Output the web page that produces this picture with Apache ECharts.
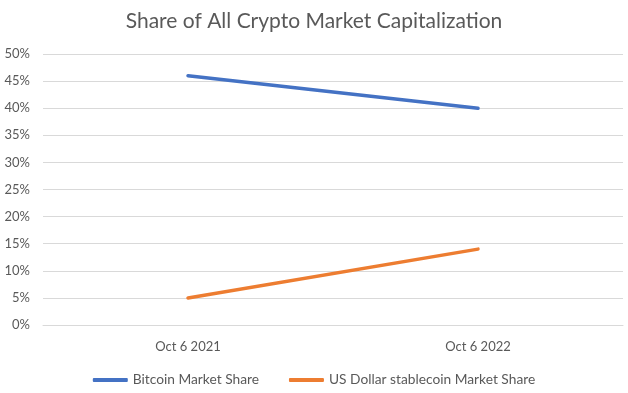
<!DOCTYPE html>
<html>
<head>
<meta charset="utf-8">
<script src="https://cdn.jsdelivr.net/npm/echarts@6/dist/echarts.min.js"></script>
<style>html,body{margin:0;padding:0;background:#fff}#c{width:628px;height:393px}</style>
</head>
<body>
<div id="c"></div>
<script>
const categories = ['Oct 6 2021', 'Oct 6 2022'];
const bitcoinShare = [46, 40];
const stablecoinShare = [5, 14];
const yTicks = [0, 5, 10, 15, 20, 25, 30, 35, 40, 45, 50];

const font = 'Lato, "Open Sans", sans-serif';
const chart = echarts.init(document.getElementById('c'), null, {renderer: 'canvas'});
chart.setOption({
  animation: false,
  backgroundColor: '#fff',
  title: {
    text: 'Share of All Crypto Market Capitalization',
    left: 'center',
    top: 6,
    textStyle: {fontFamily: font, fontSize: 21, fontWeight: 'normal', color: '#595959'}
  },
  legend: {
    top: 368,
    left: 'center',
    itemWidth: 35,
    itemHeight: 4,
    itemGap: 30,
    icon: 'roundRect',
    textStyle: {fontFamily: font, fontSize: 13.75, color: '#595959'},
    data: ['Bitcoin Market Share', 'US Dollar stablecoin Market Share']
  },
  grid: {left: 43, right: 5, top: 54, bottom: 68, containLabel: false},
  xAxis: {
    type: 'category',
    data: categories,
    boundaryGap: true,
    axisLine: {show: true, lineStyle: {color: '#d9d9d9'}},
    axisTick: {show: false},
    axisLabel: {fontFamily: font, fontSize: 13, color: '#595959', margin: 15}
  },
  yAxis: {
    type: 'value',
    min: yTicks[0],
    max: yTicks[yTicks.length - 1],
    interval: 5,
    axisLine: {show: false},
    axisTick: {show: false},
    splitLine: {lineStyle: {color: '#d9d9d9', width: 1}},
    axisLabel: {fontFamily: font, fontSize: 13, color: '#595959', margin: 13, formatter: v => v + '%'}
  },
  series: [
    {
      name: 'Bitcoin Market Share',
      type: 'line',
      data: bitcoinShare,
      symbol: 'none',
      lineStyle: {color: '#4472C4', width: 3.5, cap: 'round'},
      itemStyle: {color: '#4472C4'}
    },
    {
      name: 'US Dollar stablecoin Market Share',
      type: 'line',
      data: stablecoinShare,
      symbol: 'none',
      lineStyle: {color: '#ED7D31', width: 3.5, cap: 'round'},
      itemStyle: {color: '#ED7D31'}
    }
  ]
});
</script>
</body>
</html>
